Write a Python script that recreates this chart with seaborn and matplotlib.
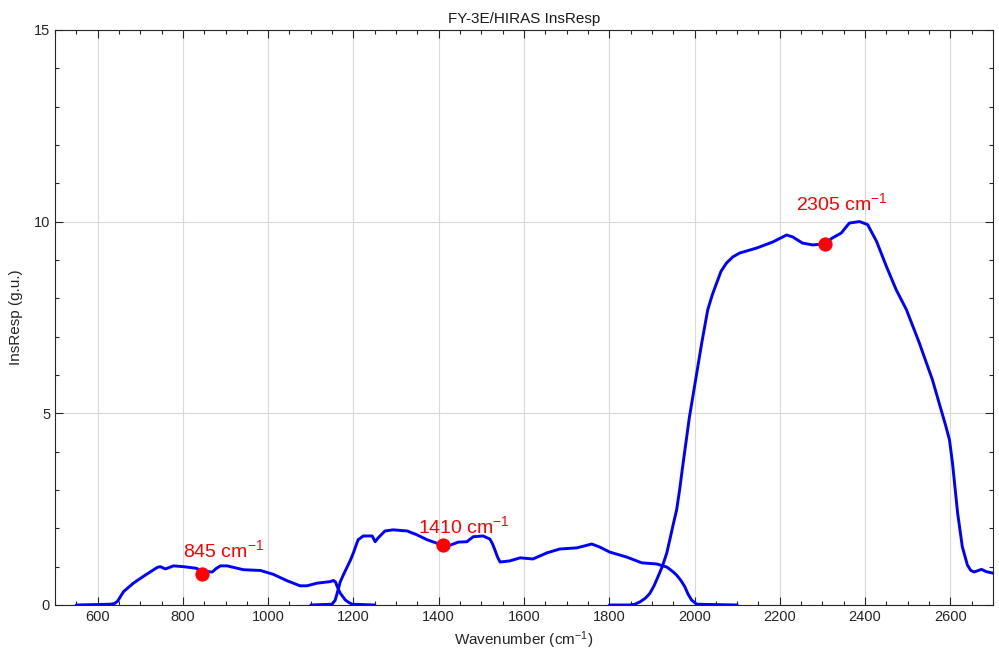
import numpy as np
import pandas as pd
import matplotlib
matplotlib.use("Agg")
import matplotlib.pyplot as plt
from matplotlib.ticker import MultipleLocator
import seaborn as sns

sns.set_theme(style="ticks")
plt.rcParams["font.family"] = ["Liberation Sans", "DejaVu Sans"]
plt.rcParams["mathtext.fontset"] = "custom"
plt.rcParams["mathtext.rm"] = "Liberation Sans"
plt.rcParams["mathtext.it"] = "Liberation Sans"

# band 1 (long wave)
lw_wn = [550, 630, 640, 647, 661, 684, 712, 740, 747, 759, 778, 801, 830, 845, 857, 869, 878, 888, 904,
         942, 982, 1012, 1045, 1075, 1091, 1115, 1146, 1153, 1158, 1162, 1169, 1181, 1190, 1197, 1250]
lw_resp = [0.0, 0.02, 0.04, 0.1, 0.35, 0.57, 0.78, 0.98, 1.0, 0.94, 1.02, 1.0, 0.96, 0.9, 0.87, 0.86, 0.95, 1.02, 1.02,
           0.92, 0.9, 0.8, 0.63, 0.5, 0.5, 0.57, 0.61, 0.64, 0.6, 0.48, 0.31, 0.13, 0.06, 0.02, 0.0]

# band 2 (middle wave)
mw_wn = [1100, 1150, 1157, 1162, 1169, 1177, 1193, 1200, 1206, 1211, 1223, 1244, 1251, 1258, 1274, 1293, 1326,
         1349, 1373, 1396, 1410, 1427, 1446, 1466, 1481, 1504, 1520, 1526, 1532, 1538, 1544, 1567, 1591, 1621,
         1654, 1684, 1724, 1759, 1778, 1801, 1841, 1876, 1911, 1935, 1948, 1958, 1968, 1977, 1985, 1993, 2005, 2100]
mw_resp = [0.0, 0.02, 0.12, 0.31, 0.6, 0.8, 1.17, 1.36, 1.55, 1.7, 1.8, 1.8, 1.65, 1.75, 1.93, 1.96, 1.93,
           1.83, 1.7, 1.61, 1.56, 1.56, 1.64, 1.65, 1.78, 1.8, 1.72, 1.6, 1.43, 1.25, 1.12, 1.15, 1.23, 1.2,
           1.36, 1.46, 1.49, 1.59, 1.51, 1.38, 1.25, 1.1, 1.07, 0.99, 0.88, 0.78, 0.64, 0.48, 0.28, 0.13, 0.02, 0.0]

# band 3 (short wave)
sw_wn = [1800, 1848, 1860, 1872, 1885, 1895, 1905, 1914, 1925, 1935, 1943, 1950, 1958, 1965, 1972, 1980, 1988,
         2000, 2017, 2031, 2042, 2052, 2062, 2075, 2090,
         2106, 2146, 2184, 2216, 2230, 2253, 2277, 2305, 2323, 2344, 2363, 2387, 2406, 2427, 2450,
         2473, 2497, 2527, 2558, 2590, 2598, 2605, 2617, 2628, 2640, 2648, 2656, 2673, 2684, 2700]
sw_resp = [0.0, 0.0, 0.02, 0.08, 0.18, 0.3, 0.5, 0.73, 1.02, 1.36, 1.75, 2.1, 2.48, 3.0, 3.6, 4.25, 4.9,
           5.7, 6.84, 7.7, 8.1, 8.4, 8.7, 8.92, 9.08,
           9.18, 9.31, 9.47, 9.65, 9.6, 9.44, 9.39, 9.42, 9.57, 9.7, 9.96, 10.0, 9.92, 9.48, 8.83,
           8.22, 7.7, 6.84, 5.87, 4.64, 4.3, 3.7, 2.4, 1.52, 1.04, 0.9, 0.86, 0.93, 0.87, 0.83]

# marked channels
mark_wn = [845, 1410, 2305]
mark_resp = [0.82, 1.56, 9.42]
mark_labels = ["845 cm$^{\\mathrm{-1}}$", "1410 cm$^{\\mathrm{-1}}$", "2305 cm$^{\\mathrm{-1}}$"]
label_x = [800, 1352, 2238]
label_y = [1.25, 1.88, 10.3]

bands = pd.concat([
    pd.DataFrame({"wn": lw_wn, "resp": lw_resp, "band": "LW"}),
    pd.DataFrame({"wn": mw_wn, "resp": mw_resp, "band": "MW"}),
    pd.DataFrame({"wn": sw_wn, "resp": sw_resp, "band": "SW"}),
])
marks = pd.DataFrame({"wn": mark_wn, "resp": mark_resp})

fig, ax = plt.subplots(figsize=(9.99, 6.63), dpi=100)
fig.subplots_adjust(left=0.055, right=0.994, bottom=0.0875, top=0.955)

for name, grp in bands.groupby("band"):
    sns.lineplot(data=grp, x="wn", y="resp", color=(0, 0, 1), lw=2.1, ax=ax,
                 sort=False, estimator=None, solid_joinstyle="round")
sns.scatterplot(data=marks, x="wn", y="resp", color="red", s=90, edgecolor="red",
                zorder=5, ax=ax)
for lx, ly, txt in zip(label_x, label_y, mark_labels):
    ax.text(lx, ly, txt, color="red", fontsize=14, ha="left", va="baseline")

ax.set_xlim(500, 2700)
ax.set_ylim(0, 15)
ax.xaxis.set_minor_locator(MultipleLocator(50))
ax.yaxis.set_major_locator(MultipleLocator(5))
ax.yaxis.set_minor_locator(MultipleLocator(1))
ax.set_xticks(range(600, 2700, 200))
ax.tick_params(which="both", direction="in", top=True, right=True, colors="0.15",
               labelsize=10.5, labelcolor="0.15")
ax.tick_params(which="major", length=6, width=0.8)
ax.tick_params(which="minor", length=3, width=0.8)
ax.grid(True, which="major", color="0.85", lw=0.8)
for sp in ax.spines.values():
    sp.set_color("0.15")
    sp.set_linewidth(0.8)

ax.set_title("FY-3E/HIRAS InsResp", fontsize=11, color="0.1", pad=5)
ax.set_xlabel("Wavenumber (cm$^{\\mathrm{-1}}$)", fontsize=11, color="0.15", labelpad=4)
ax.set_ylabel("InsResp (g.u.)", fontsize=11, color="0.15", labelpad=8)

fig.savefig("out.png", dpi=100)
